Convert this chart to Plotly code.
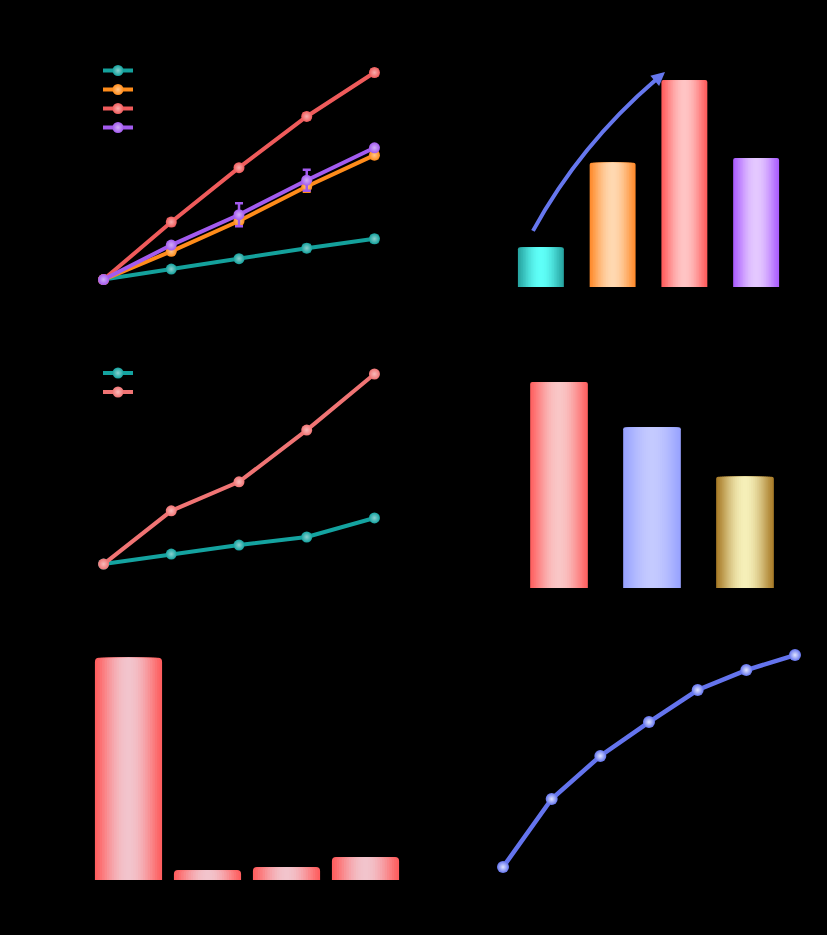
import math
import plotly.graph_objects as go

W, H = 827, 935

# ---------------- data ----------------
# Panel A: growth curves
time_a = [0, 1, 2, 3, 4]
a_names = ["Control", "Group 1", "Group 2", "Group 3"]
a_ctrl = [0.0, 0.10, 0.20, 0.30, 0.39]
a_g1 = [0.0, 0.27, 0.56, 0.89, 1.19]
a_g2 = [0.0, 0.55, 1.07, 1.56, 1.98]
a_g3 = [0.0, 0.33, 0.62, 0.95, 1.26]
a_ctrl_err = [0.0, 0.01, 0.02, 0.03, 0.03]
a_g1_err = [0.0, 0.02, 0.04, 0.05, 0.03]
a_g2_err = [0.0, 0.03, 0.02, 0.03, 0.03]
a_g3_err = [0.0, 0.02, 0.11, 0.10, 0.02]

# Panel B: bars
b_cats = ["Control", "Group 1", "Group 2", "Group 3"]
b_vals = [1.0, 3.12, 5.2, 3.24]

# Panel C: two curves
time_c = [0, 1, 2, 3, 4]
c_names = ["Control", "Treated"]
c_ctrl = [0.0, 0.21, 0.40, 0.57, 0.97]
c_trt = [0.0, 1.12, 1.73, 2.82, 4.0]

# Panel D: bars
d_cats = ["Type A", "Type B", "Type C"]
d_vals = [100, 78, 54]

# Panel E: bars
e_cats = ["Ctrl", "S1", "S2", "S3"]
e_vals = [100, 4.5, 5.9, 10.4]

# Panel F: saturation curve
f_x = [0, 10, 20, 30, 40, 50, 60]
f_y = [0, 32.1, 52.4, 68.4, 83.5, 92.9, 100]

# ---------------- helpers ----------------
def fx(p):
    return p / W

def fy(p):
    return 1 - p / H

def hex2rgb(h):
    h = h.lstrip("#")
    return tuple(int(h[i:i + 2], 16) for i in (0, 2, 4))

def mix(c1, c2, t):
    a, b = hex2rgb(c1), hex2rgb(c2)
    return "rgb(%d,%d,%d)" % tuple(round(a[i] + (b[i] - a[i]) * t) for i in range(3))

fig = go.Figure()
NS = 14

def gradient_bars(xs, ys, edge_cols, center_cols, width, xa, ya, radius=0):
    # nested, progressively narrower bars -> horizontal edge-to-centre gradient
    for k in range(NS):
        wk = width * (1 - k / NS)
        d = (k + 0.5) / (2 * NS)          # distance from edge, 0..0.5
        m = math.sin(math.pi * d) ** 1.2
        cols = [mix(e, c, m) for e, c in zip(edge_cols, center_cols)]
        fig.add_trace(go.Bar(
            x=xs, y=ys, width=[wk] * len(xs),
            marker=dict(color=cols, line=dict(width=0), cornerradius=radius),
            xaxis=xa, yaxis=ya, showlegend=False, hoverinfo="skip"))

def light(c):
    return mix(c, "#ffffff", 0.5)

# Panel A
a_cols = ["#14a19c", "#ff8c1a", "#ef5b5b", "#a35bef"]
for name, ys, err, col in zip(a_names, [a_ctrl, a_g1, a_g2, a_g3],
                              [a_ctrl_err, a_g1_err, a_g2_err, a_g3_err], a_cols):
    fig.add_trace(go.Scatter(
        x=time_a, y=ys, name=name, mode="lines+markers",
        error_y=dict(type="data", array=err, color=col, thickness=2.5, width=4),
        line=dict(color=col, width=4),
        marker=dict(size=11, color=col, gradient=dict(type="radial", color=light(col))),
        xaxis="x", yaxis="y", legend="legend"))

# Panel B
gradient_bars(list(range(len(b_cats))), b_vals,
              ["#26a3a0", "#ff8a2a", "#ff5a5a", "#aa5cff"],
              ["#5ffff8", "#ffd8b0", "#ffc4c4", "#e4c8ff"], 0.64, "x2", "y2", 2)

# Panel C
c_cols = ["#14a3a0", "#f07474"]
for name, ys, col in zip(c_names, [c_ctrl, c_trt], c_cols):
    fig.add_trace(go.Scatter(
        x=time_c, y=ys, name=name, mode="lines+markers",
        line=dict(color=col, width=4),
        marker=dict(size=11, color=col, gradient=dict(type="radial", color=light(col))),
        xaxis="x3", yaxis="y3", legend="legend2"))

# Panel D
gradient_bars(list(range(len(d_cats))), d_vals,
              ["#ff5f5f", "#98a2ff", "#a87a26"],
              ["#f9c6c6", "#c4caff", "#f5efb8"], 0.62, "x4", "y4", 2)

# Panel E
gradient_bars(list(range(len(e_cats))), e_vals,
              ["#ff5c5c"] * 4, ["#f2c4cc"] * 4, 0.85, "x5", "y5", 4)

# Panel F
fcol = "#6474ee"
fig.add_trace(go.Scatter(
    x=f_x, y=f_y, mode="lines+markers", showlegend=False,
    line=dict(color=fcol, width=4.5),
    marker=dict(size=12, color=fcol, gradient=dict(type="radial", color="#dfe4ff")),
    xaxis="x6", yaxis="y6"))

black = "#000000"
ax_common = dict(showgrid=False, zeroline=False, showline=True, linecolor=black,
                 ticks="outside", tickcolor=black, tickfont=dict(color=black, size=12),
                 title_font=dict(color=black, size=13))

fig.update_layout(
    width=W, height=H, margin=dict(l=0, r=0, t=0, b=0, autoexpand=False),
    paper_bgcolor=black, plot_bgcolor=black, barmode="overlay",
    font=dict(family="DejaVu Sans", color=black),
    xaxis=dict(domain=[fx(90), fx(388)], range=[-0.2, 4.2], anchor="y",
               tickvals=time_a, title_text="Time (d)", **ax_common),
    yaxis=dict(domain=[fy(290), fy(60)], range=[-0.1, 2.1], anchor="x",
               title_text="OD600", **ax_common),
    xaxis2=dict(domain=[fx(505), fx(792)], range=[-0.5, 3.5], anchor="y2",
                tickvals=list(range(len(b_cats))), ticktext=b_cats, **ax_common),
    yaxis2=dict(domain=[fy(287), fy(55)], range=[0, 5.83], anchor="x2",
                title_text="Relative yield", **ax_common),
    xaxis3=dict(domain=[fx(90), fx(388)], range=[-0.2, 4.2], anchor="y3",
                tickvals=time_c, title_text="Time (d)", **ax_common),
    yaxis3=dict(domain=[fy(575), fy(355)], range=[-0.23, 4.40], anchor="x3",
                title_text="Fold change", **ax_common),
    xaxis4=dict(domain=[fx(512.5), fx(791.5)], range=[-0.5, 2.5], anchor="y4",
                tickvals=list(range(len(d_cats))), ticktext=d_cats, **ax_common),
    yaxis4=dict(domain=[fy(588), fy(360)], range=[0, 110.7], anchor="x4",
                title_text="Relative activity (%)", **ax_common),
    xaxis5=dict(domain=[fx(89), fx(405)], range=[-0.5, 3.5], anchor="y5",
                tickvals=list(range(len(e_cats))), ticktext=e_cats, **ax_common),
    yaxis5=dict(domain=[fy(880), fy(640)], range=[0, 108], anchor="x5",
                title_text="Residual (%)", **ax_common),
    xaxis6=dict(domain=[fx(488.4), fx(809.6)], range=[-3, 63], anchor="y6",
                title_text="Time (min)", **ax_common),
    yaxis6=dict(domain=[fy(880), fy(640)], range=[-6.1, 107.1], anchor="x6",
                title_text="Conversion (%)", **ax_common),
    legend=dict(x=fx(98), y=fy(56), xanchor="left", yanchor="top",
                bgcolor="rgba(0,0,0,0)", font=dict(color=black, size=10),
                itemwidth=30, tracegroupgap=0),
    legend2=dict(x=fx(98), y=fy(358.5), xanchor="left", yanchor="top",
                 bgcolor="rgba(0,0,0,0)", font=dict(color=black, size=10),
                 itemwidth=30, tracegroupgap=0),
)

# curved arrow in panel B
fig.add_shape(type="path", xref="x2", yref="y2",
              path="M -0.11,1.41 Q 0.544,3.57 1.61,5.22",
              line=dict(color="#6677ee", width=4))
fig.add_annotation(x=1.73, y=5.4, ax=1.49, ay=5.03, xref="x2", yref="y2",
                   axref="x2", ayref="y2", text="", showarrow=True,
                   arrowhead=2, arrowsize=0.9, arrowwidth=3, arrowcolor="#6677ee")

# panel letters (black, as in the reference)
for lbl, px, py in [("A", 20, 20), ("B", 430, 20), ("C", 20, 330),
                    ("D", 430, 330), ("E", 20, 630), ("F", 430, 630)]:
    fig.add_annotation(x=fx(px), y=fy(py), xref="paper", yref="paper", text="<b>%s</b>" % lbl,
                       showarrow=False, font=dict(color=black, size=16))

fig.write_html(
    "out.html",
    config={"displayModeBar": False},
    post_script="document.body.style.margin='0';document.body.style.background='black';",
)
